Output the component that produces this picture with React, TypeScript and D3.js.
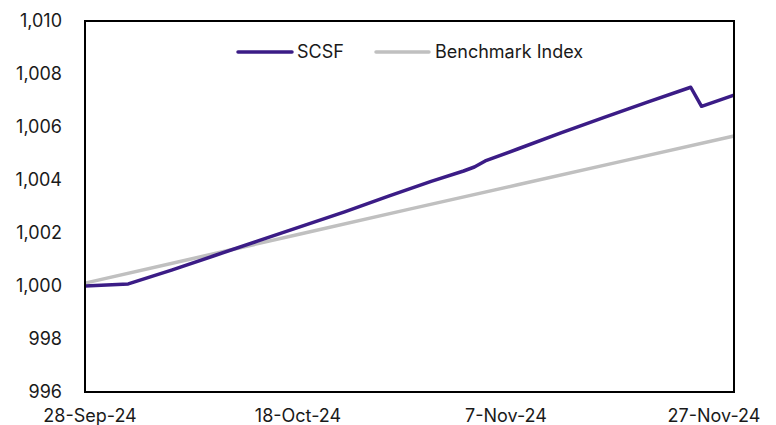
import React from 'react';
import * as d3 from 'd3';

const scsfDates = ['2024-09-28', '2024-10-02', '2024-10-06', '2024-10-10', '2024-10-14', '2024-10-18', '2024-10-22', '2024-10-26', '2024-10-30', '2024-11-02', '2024-11-03', '2024-11-04', '2024-11-07', '2024-11-11', '2024-11-15', '2024-11-19', '2024-11-23', '2024-11-24', '2024-11-27'];
const scsfValues = [1000.0, 1000.08, 1000.6, 1001.15, 1001.7, 1002.25, 1002.8, 1003.38, 1003.95, 1004.34, 1004.49, 1004.72, 1005.17, 1005.78, 1006.36, 1006.94, 1007.5, 1006.78, 1007.2];

const benchDates = ['2024-09-28', '2024-10-08', '2024-10-18', '2024-10-28', '2024-11-07', '2024-11-17', '2024-11-27'];
const benchValues = [1000.11, 1001.04, 1001.97, 1002.9, 1003.82, 1004.74, 1005.66];

const xTickLabels = ['28-Sep-24', '18-Oct-24', '7-Nov-24', '27-Nov-24'];
const yTicks = [996, 998, 1000, 1002, 1004, 1006, 1008, 1010];

const W = 776;
const H = 425;
const margin = { top: 21, right: 42, bottom: 33, left: 85 };
const font = 'Inter, "Noto Sans", sans-serif';
const fs = 18;

export default function App() {
  const parse = d3.timeParse('%Y-%m-%d');
  const x = d3.scaleTime()
    .domain([parse('2024-09-28')!, parse('2024-11-27')!])
    .range([margin.left, W - margin.right]);
  const y = d3.scaleLinear()
    .domain([996, 1010])
    .range([H - margin.bottom, margin.top]);
  // tick labels sit a little inside the ends, as in the source
  const xl = d3.scalePoint<string>().domain(xTickLabels).range([90, 714]);

  const line = d3.line<[Date, number]>()
    .x(d => x(d[0]))
    .y(d => y(d[1]));

  const scsf = scsfDates.map((d, i) => [parse(d)!, scsfValues[i]] as [Date, number]);
  const bench = benchDates.map((d, i) => [parse(d)!, benchValues[i]] as [Date, number]);
  const fmt = d3.format(',');

  return (
    <svg width={W} height={H} style={{ position: 'absolute', left: 0, top: 0 }} fontFamily={font}>
      <rect x={0} y={0} width={W} height={H} fill="#fff" />
      <path d={line(bench)!} fill="none" stroke="#c0c0c0" strokeWidth={3.5} />
      <path d={line(scsf)!} fill="none" stroke="#3b1c86" strokeWidth={3.5} strokeLinejoin="round" />
      <rect x={margin.left} y={margin.top} width={W - margin.left - margin.right}
        height={H - margin.top - margin.bottom} fill="none" stroke="#000" strokeWidth={2} />
      {yTicks.map(t => (
        <text key={t} x={62} y={y(t)} dy="0.35em" textAnchor="end" fontSize={fs} fill="#1a1a1a">{fmt(t)}</text>
      ))}
      {xTickLabels.map(t => (
        <text key={t} x={xl(t)} y={422} textAnchor="middle" fontSize={fs} fill="#1a1a1a">{t}</text>
      ))}
      <g>
        <line x1={238} x2={292} y1={52} y2={52} stroke="#3b1c86" strokeWidth={3.5} strokeLinecap="round" />
        <text x={297} y={52} dy="0.35em" fontSize={fs} fill="#1a1a1a">SCSF</text>
        <line x1={376} x2={429} y1={52} y2={52} stroke="#c0c0c0" strokeWidth={3.5} strokeLinecap="round" />
        <text x={435} y={52} dy="0.35em" fontSize={fs} fill="#1a1a1a">Benchmark Index</text>
      </g>
    </svg>
  );
}
